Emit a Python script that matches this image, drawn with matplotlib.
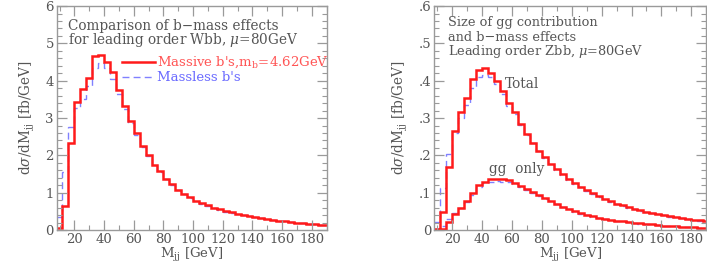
import numpy as np
import matplotlib
matplotlib.use("Agg")
import matplotlib.pyplot as plt
from matplotlib.ticker import MultipleLocator, FuncFormatter

plt.rcParams['font.family'] = ['DejaVu Serif']
plt.rcParams['mathtext.fontset'] = 'dejavuserif'

# bin edges (GeV)
edges = np.arange(8, 193, 4)

# Left panel: Wbb
wbb_massive = [0.05, 0.65, 2.33, 3.43, 3.77, 4.08, 4.65, 4.70, 4.50, 4.23,
               3.75, 3.33, 2.93, 2.60, 2.25, 2.00, 1.75, 1.57, 1.38, 1.22,
               1.08, 0.97, 0.88, 0.79, 0.72, 0.66, 0.60, 0.55, 0.50, 0.47,
               0.44, 0.41, 0.38, 0.34, 0.31, 0.29, 0.27, 0.25, 0.23, 0.21,
               0.19, 0.18, 0.16, 0.15, 0.14, 0.13]
wbb_massless = [0.36, 1.55, 2.77, 3.27, 3.52, 3.85, 4.35, 4.47, 4.35, 4.05,
                3.65, 3.25, 2.88, 2.55, 2.22, 1.97, 1.73, 1.55, 1.36, 1.20,
                1.07, 0.96, 0.87, 0.78, 0.71, 0.65, 0.59, 0.54, 0.49, 0.46,
                0.43, 0.40, 0.37, 0.34, 0.31, 0.29, 0.27, 0.25, 0.23, 0.21,
                0.19, 0.18, 0.16, 0.15, 0.14, 0.13]

# Right panel: Zbb
zbb_total_massive = [0.003, 0.047, 0.17, 0.265, 0.315, 0.353, 0.405, 0.43, 0.434, 0.42,
                     0.398, 0.372, 0.34, 0.315, 0.285, 0.258, 0.234, 0.213, 0.195, 0.178,
                     0.163, 0.149, 0.137, 0.125, 0.115, 0.106, 0.098, 0.09, 0.083, 0.077,
                     0.071, 0.066, 0.061, 0.057, 0.053, 0.049, 0.046, 0.043, 0.040, 0.037,
                     0.035, 0.032, 0.030, 0.028, 0.026, 0.024]
zbb_total_massless = [0.022, 0.113, 0.205, 0.26, 0.30, 0.335, 0.38, 0.41, 0.416, 0.41,
                      0.39, 0.365, 0.333, 0.31, 0.282, 0.255, 0.232, 0.211, 0.193, 0.176,
                      0.161, 0.147, 0.135, 0.124, 0.114, 0.105, 0.097, 0.089, 0.082, 0.076,
                      0.070, 0.065, 0.060, 0.056, 0.052, 0.048, 0.045, 0.042, 0.039, 0.036,
                      0.034, 0.031, 0.029, 0.027, 0.025, 0.023]
zbb_gg_massive = [0.0, 0.003, 0.022, 0.042, 0.06, 0.078, 0.10, 0.12, 0.13, 0.136,
                  0.138, 0.137, 0.133, 0.127, 0.119, 0.11, 0.102, 0.094, 0.086, 0.078,
                  0.07, 0.063, 0.056, 0.05, 0.045, 0.041, 0.037, 0.033, 0.030, 0.028,
                  0.025, 0.023, 0.021, 0.019, 0.018, 0.016, 0.015, 0.014, 0.012, 0.011,
                  0.010, 0.009, 0.008, 0.007, 0.006, 0.005]
zbb_gg_massless = [0.002, 0.01, 0.03, 0.045, 0.06, 0.075, 0.095, 0.115, 0.125, 0.13,
                   0.131, 0.13, 0.128, 0.123, 0.116, 0.108, 0.100, 0.092, 0.084, 0.077,
                   0.069, 0.062, 0.055, 0.049, 0.044, 0.040, 0.036, 0.033, 0.030, 0.027,
                   0.025, 0.023, 0.021, 0.019, 0.017, 0.016, 0.015, 0.013, 0.012, 0.011,
                   0.010, 0.009, 0.008, 0.007, 0.006, 0.005]

xticks = [20, 40, 60, 80, 100, 120, 140, 160, 180]

RED = '#ff1a1a'
BLUE = '#8080ff'
GRAY = '#9a9a9a'
TXT = '#555555'
FS = 9.5

fig = plt.figure(figsize=(7.07, 2.65), dpi=100)
axL = fig.add_axes([0.080, 0.132, 0.382, 0.845])
axR = fig.add_axes([0.614, 0.132, 0.385, 0.845])


def style(ax, ymax, ymajor, yminor, fmt):
    ax.set_xlim(8, 190)
    ax.set_ylim(0, ymax)
    ax.set_xticks(xticks)
    ax.xaxis.set_minor_locator(MultipleLocator(10))
    ax.yaxis.set_major_locator(MultipleLocator(ymajor))
    ax.yaxis.set_minor_locator(MultipleLocator(yminor))
    ax.yaxis.set_major_formatter(FuncFormatter(fmt))
    for s in ax.spines.values():
        s.set_color(GRAY)
        s.set_linewidth(1.0)
    ax.tick_params(which='both', direction='in', top=True, right=True,
                   color=GRAY, labelcolor=TXT, labelsize=FS)
    ax.tick_params(which='major', length=7, width=0.9, pad=2)
    ax.tick_params(which='minor', length=3.5, width=0.8)
    ax.set_xlabel(r'M$_{\rm jj}$ [GeV]', color=TXT, fontsize=FS)
    ax.xaxis.set_label_coords(0.5, -0.07)
    ax.set_ylabel(r'd$\sigma$/dM$_{\rm jj}$ [fb/GeV]', color=TXT, fontsize=FS + 0.3, labelpad=6)


style(axL, 6, 1, 0.2, lambda v, p: f'{v:.0f}')


def fmtR(v, p):
    if abs(v) < 1e-9:
        return '0'
    return f'{v:.1f}'.lstrip('0')


style(axR, 0.6, 0.1, 0.02, fmtR)

dash = (0, (5, 3))
axL.stairs(wbb_massless, edges, color=BLUE, lw=1.0, linestyle=dash, baseline=None)
axL.stairs(wbb_massive, edges, color=RED, lw=1.8, baseline=None)

axR.stairs(zbb_total_massless, edges, color=BLUE, lw=1.0, linestyle=dash, baseline=None)
axR.stairs(zbb_gg_massless, edges, color=BLUE, lw=1.0, linestyle=dash, baseline=None)
axR.stairs(zbb_total_massive, edges, color=RED, lw=1.8, baseline=None)
axR.stairs(zbb_gg_massive, edges, color=RED, lw=1.8, baseline=None)

TF = 9.8
TR = 9.3
# Left annotations
axL.text(15.6, 5.48, 'Comparison of b\u2212mass effects', color=TXT, fontsize=TF, va='center')
axL.text(15.6, 5.08, r'for leading order Wbb, $\mu$=80GeV', color=TXT, fontsize=TF, va='center')
axL.plot([52, 74.5], [4.5, 4.5], color=RED, lw=1.8)
axL.text(76, 4.5, r"Massive b's,m$_{\rm b}$=4.62GeV", color='#ff5555', fontsize=FS, va='center')
axL.plot([52, 74.5], [4.1, 4.1], color=BLUE, lw=1.0, linestyle=dash)
axL.text(76, 4.1, "Massless b's", color='#6a6aff', fontsize=FS, va='center')

# Right annotations
axR.text(17.2, 0.555, 'Size of gg contribution', color=TXT, fontsize=TR, va='center')
axR.text(17.2, 0.516, 'and b\u2212mass effects', color=TXT, fontsize=TR, va='center')
axR.text(17.2, 0.477, r'Leading order Zbb, $\mu$=80GeV', color=TXT, fontsize=TR, va='center')
axR.text(55, 0.39, 'Total', color=TXT, fontsize=TF, va='center')
axR.text(45, 0.164, 'gg  only', color=TXT, fontsize=TF, va='center')

fig.savefig('out.png', dpi=100)
